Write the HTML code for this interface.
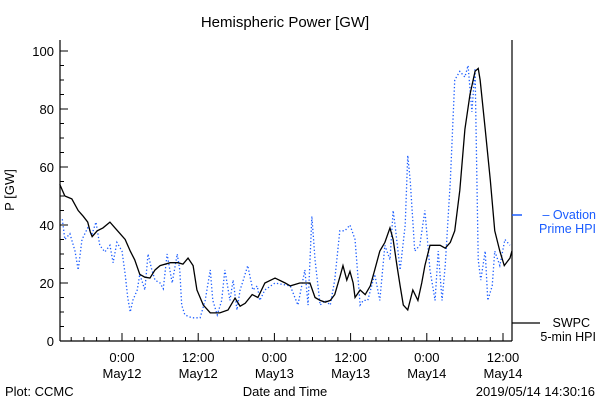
<!DOCTYPE html>
<html><head><meta charset="utf-8"><style>
html,body{margin:0;padding:0;background:#fff;}
svg{display:block;font-family:"Liberation Sans",sans-serif;}
</style></head><body>
<svg id="chart" width="600" height="400" viewBox="0 0 600 400">
<text x="285" y="27" font-size="15" text-anchor="middle">Hemispheric Power [GW]</text>
<text x="0" y="0" font-size="13" text-anchor="middle" transform="translate(14,190) rotate(-90)">P [GW]</text>
<text x="285" y="396" font-size="13" text-anchor="middle">Date and Time</text>
<text x="5" y="396" font-size="13">Plot: CCMC</text>
<text x="595" y="396" font-size="13" text-anchor="end">2019/05/14 14:30:16</text>
<g id="axes"></g>
<g id="series"></g>
<g>
<line x1="512" y1="215" x2="522" y2="215" stroke="#1a5cff" stroke-width="1.5"/>
<text x="596" y="219" font-size="12.5" fill="#1a5cff" text-anchor="end">– Ovation</text>
<text x="596" y="233" font-size="12.5" fill="#1a5cff" text-anchor="end">Prime HPI</text>
<line x1="512" y1="323" x2="540" y2="323" stroke="#000" stroke-width="1.2"/>
<text x="590" y="327" font-size="12.5" text-anchor="end">SWPC</text>
<text x="596" y="341" font-size="12.5" text-anchor="end">5-min HPI</text>
</g>
</svg>
<script>
// hours relative to 2019-05-12 00:00
const xTickHours = [0, 12, 24, 36, 48, 60];
const xTickTime = ["0:00","12:00","0:00","12:00","0:00","12:00"];
const xTickDate = ["May12","May12","May13","May13","May14","May14"];
const yTicks = [0, 20, 40, 60, 80, 100];
const swpcHours = [-9.8,-9.0,-7.9,-6.9,-6.1,-5.4,-5.0,-4.7,-3.9,-3.0,-1.9,-1.1,-0.3,0.5,1.3,2.0,2.8,3.6,4.4,5.2,6.0,7.6,8.8,9.6,10.4,11.2,11.8,12.8,13.9,15.4,16.7,17.8,18.6,19.4,20.5,21.4,22.5,24.1,25.7,26.5,28.0,29.6,30.4,31.2,32.0,32.8,33.5,34.3,34.8,35.4,35.9,36.4,36.7,37.5,38.3,39.1,39.8,40.6,41.4,42.2,42.7,43.3,43.8,44.3,45.0,45.8,46.6,47.2,47.7,48.5,50.1,50.9,51.7,52.4,53.2,54.0,54.8,55.6,56.1,56.4,57.2,58.0,58.7,59.5,60.2,61.1,61.4];
const swpcValues = [54,50,49,45,43,41,37.6,36,38,39,41,39,37,35,31,28,23,22,21.7,24.5,26,27,27,26.5,28.6,26,17.6,12.4,9.7,9.7,10.7,14.8,12,13,16,15,20,21.7,20,19,20,20,15,14,13.4,14,16,22,26,21,24,20,15,17.6,16,19,24.5,31,34,39,35,26,19,12.4,10.7,17.6,14,20,26,33,33,32,34,38,52,73,85,93,94,90,73,55.5,38,31,26,28.6,31];
const ovHours = [-9.4,-9.0,-8.2,-7.4,-6.9,-6.3,-5.4,-4.7,-4.1,-3.5,-2.7,-1.9,-1.4,-0.8,0,0.5,0.9,1.3,1.7,2.4,2.8,3.6,4.1,4.7,5.2,6.0,6.5,7.1,7.9,8.7,9.1,9.4,9.9,11.0,12.3,13.1,13.9,14.3,15.0,15.7,16.2,17.0,17.5,18.1,18.6,19.1,19.8,20.6,21.3,21.7,22.5,24.1,26.5,27.7,28.3,28.8,29.3,29.9,30.4,31.2,32.0,32.8,33.5,34.3,35.1,35.9,36.7,37.5,38.0,38.7,39.8,40.6,41.4,42.2,42.7,43.0,43.8,44.6,45.0,45.4,46.1,46.9,47.7,48.5,49.3,49.8,50.4,50.9,51.7,52.4,53.2,54.0,54.5,55.1,55.6,56.1,56.5,57.2,57.6,58.3,58.7,59.5,60.3,61.1];
const ovValues = [42,35,37,31,24.5,35,39,37,41,33,30.7,33,27,34,31,23,15,10,14,17.6,23,17.6,30,24.5,21,20,18,30,20,30,24.5,12.4,9,8,8,14,24.5,14,9,14,24.5,14,21,10.7,17.6,21,26,17.6,19,14,17.6,20,19,12.4,19,24.5,12.4,43,28,12.4,14,12.4,21,38,38,40,35,12.4,14,14,23,14,33,28,45,40,24.5,40,64,55,31,33,45,24.5,14,31,14,26,55,90,93,91,95,79,94,28,21,31,14,19,31,26,35,33];

const L=60,R=512,B=341,T=40;
const x0=122, pxPerHour=6.35;
const xs=h=>x0+h*pxPerHour;
const ys=v=>B-v*2.9;
const NS="http://www.w3.org/2000/svg";
function mk(tag,attrs,parent){const e=document.createElementNS(NS,tag);for(const k in attrs)e.setAttribute(k,attrs[k]);parent.appendChild(e);return e;}
const axes=document.getElementById('axes');
let e;
e=mk('line',{x1:L,y1:T,x2:L,y2:B,stroke:'#000','stroke-width':1.2},axes);


e=mk('line',{x1:L,y1:B,x2:R,y2:B,stroke:'#000','stroke-width':1.2},axes);


e=mk('line',{x1:R,y1:T,x2:R,y2:B,stroke:'#000','stroke-width':1.2},axes);


for(let v=0;v<=100;v+=5){
  const len=(v%20===0)?8:4;
  e=mk('line',{x1:L,y1:ys(v),x2:L+len,y2:ys(v),stroke:'#000'},axes);
  
  
}
yTicks.forEach(v=>{
  e=mk('text',{x:L-6,y:ys(v)+5,'font-size':13,'text-anchor':'end'},axes);
  e.textContent=v;
  
  
});
for(let h=-8;h<=61;h+=2){
  const len=(h%12===0)?8:4;
  e=mk('line',{x1:xs(h),y1:B,x2:xs(h),y2:B-len,stroke:'#000'},axes);
  
  
}
xTickHours.forEach((h,i)=>{
  e=mk('text',{x:xs(h),y:362,'font-size':13,'text-anchor':'middle'},axes);
  e.textContent=xTickTime[i];
  
  
  e=mk('text',{x:xs(h),y:378,'font-size':13,'text-anchor':'middle'},axes);
  e.textContent=xTickDate[i];
  
  
});
const series=document.getElementById('series');
e=mk('polyline',{points:ovHours.map((h,i)=>xs(h)+','+ys(ovValues[i])).join(' '),fill:'none',stroke:'#1a5cff','stroke-width':1.3,'stroke-dasharray':'1.3 2.2'},series);


e=mk('polyline',{points:swpcHours.map((h,i)=>xs(h)+','+ys(swpcValues[i])).join(' '),fill:'none',stroke:'#000','stroke-width':1.3},series);


</script>
</body></html>
